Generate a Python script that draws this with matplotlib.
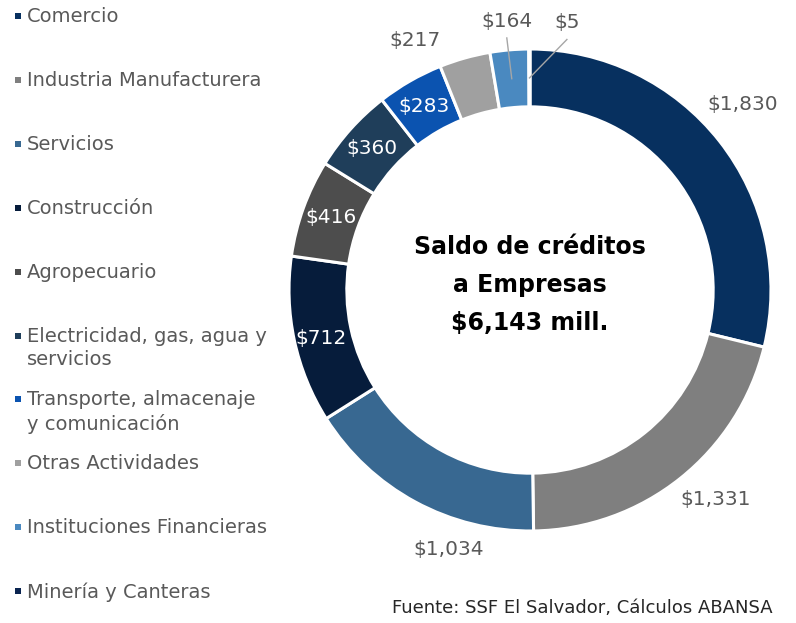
import numpy as np
import matplotlib
matplotlib.use("Agg")
import matplotlib.pyplot as plt

categories = ["Comercio", "Industria Manufacturera", "Servicios", "Construcción",
              "Agropecuario", "Electricidad, gas, agua y\nservicios",
              "Transporte, almacenaje\ny comunicación", "Otras Actividades",
              "Instituciones Financieras", "Minería y Canteras"]
values = [1830, 1331, 1034, 712, 416, 360, 283, 217, 164, 5]
value_labels = ["$1,830", "$1,331", "$1,034", "$712", "$416", "$360", "$283", "$217", "$164", "$5"]
center_title = "Saldo de créditos\na Empresas\n$6,143 mill."
source = "Fuente: SSF El Salvador, Cálculos ABANSA"

colors = ["#07305f", "#7f7f7f", "#386891", "#061c3b", "#4d4d4d",
          "#1f3e5a", "#0b53b0", "#a0a0a0", "#4a89c0", "#0a2450"]
inside = [False, False, False, True, True, True, True, False, False, False]
# label placement style: (radius factor, angle adjust in degrees)
lab_style = [(1.17, -3), (1.16, -3), (1.13, -11), (0.89, -1), (0.88, 0), (0.88, 0),
             (0.88, 0), (1.14, -9), (1.12, 0), (1.12, 8)]
leader = [False, False, False, False, False, False, False, False, True, True]

FONT = "DejaVu Sans"
W, H = 796, 623
fig = plt.figure(figsize=(W / 100, H / 100), dpi=100)

cx, cy, R = 530, 290, 241
ax = fig.add_axes([(cx - R) / W, (H - cy - R) / H, 2 * R / W, 2 * R / H])
wedges, _ = ax.pie(values, colors=colors, startangle=90, counterclock=False,
                   radius=1, wedgeprops=dict(width=0.24, edgecolor="white", linewidth=2.2))
ax.set_xlim(-1, 1)
ax.set_ylim(-1, 1)
ax.set_aspect("equal")
ax.axis("off")

total = sum(values)
cum = np.cumsum([0] + values)
for i, (v, lab) in enumerate(zip(values, value_labels)):
    mid = (cum[i] + cum[i + 1]) / 2 / total * 360  # clockwise from top
    rf, adj = lab_style[i]
    a = np.deg2rad(mid + adj)
    x, y = rf * np.sin(a), rf * np.cos(a)
    col = "white" if inside[i] else "#595959"
    ax.text(x, y, lab, ha="center", va="center", color=col, fontsize=14.5,
            family=FONT, clip_on=False)
    if leader[i]:
        am = np.deg2rad(mid)
        ax.plot([x, 0.88 * np.sin(am)], [y - 0.07, 0.88 * np.cos(am)],
                color="#a6a6a6", lw=1, clip_on=False)

ax.text(0, 0.02, center_title, ha="center", va="center", fontsize=17,
        fontweight="bold", family=FONT, color="black", linespacing=1.72)

# legend drawn manually
lax = fig.add_axes([0, 0, 1, 1])
lax.set_xlim(0, W)
lax.set_ylim(H, 0)
lax.axis("off")
y0, dy = 16, 63.9
for i, (cat, col) in enumerate(zip(categories, colors)):
    y = y0 + i * dy
    lax.scatter([18], [y], marker="s", s=22, color=col, linewidths=0)
    lax.text(27, y - 9, cat, ha="left", va="top", fontsize=14, color="#595959",
             family=FONT, linespacing=1.3)

lax.text(773, 608, source, ha="right", va="center", fontsize=13, color="#262626", family=FONT)

fig.savefig("out.png", dpi=100, facecolor="white")
